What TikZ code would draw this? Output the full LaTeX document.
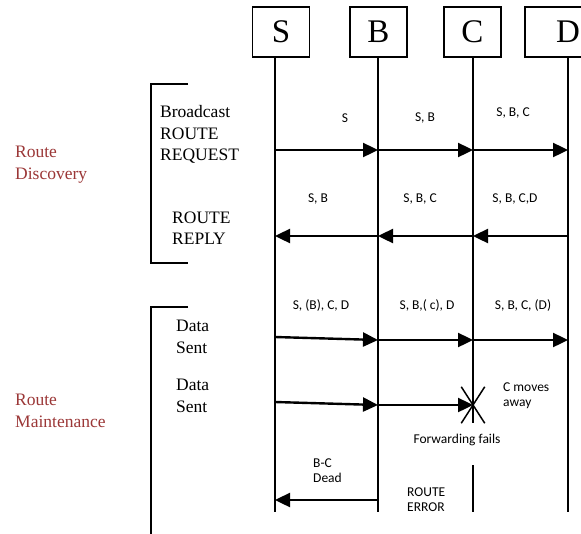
\documentclass[tikz,border=0pt]{standalone}
\usepackage{fontspec}
\setmainfont{Liberation Serif}
\newfontfamily\labelfont{Carlito}
\usepackage{xcolor}
\usepackage{tikz}
\usetikzlibrary{arrows.meta, positioning, shapes.misc}

\definecolor{phasered}{RGB}{155,55,55}

\begin{document}
\begin{tikzpicture}[
    x=1pt, y=-1pt,
    lifebox/.style={rectangle, draw, line width=1.4pt,
                    minimum width=57pt, minimum height=50pt,
                    font=\fontsize{33}{33}\selectfont, inner sep=0pt},
    life/.style={line width=1.6pt},
    msg/.style={-{Triangle[length=15pt, width=14pt]}, line width=2.4pt},
    bracket/.style={line width=1.8pt},
    note/.style={font=\fontsize{17.5}{21.5}\selectfont, align=left,
                 anchor=west, inner sep=0pt},
    phase/.style={note, text=phasered},
    tag/.style={font=\labelfont\fontsize{13.5}{15.5}\selectfont,
                inner sep=0pt, align=left}
]
\clip (0,0) rectangle (581,533);

%% ── Participants ─────────────────────────────────────────────────────────
\node[lifebox] (nS) at (281,32)   {S};
\node[lifebox] (nB) at (378.5,32) {B};
\node[lifebox] (nC) at (472.5,32) {C};
\node[lifebox, minimum width=86pt] (nD) at (568,32) {D};

% lifeline ends
\coordinate (Send) at (275,512);
\coordinate (Bend) at (378,512);
\coordinate (Cend) at (473,512);
\coordinate (Dend) at (568,512);
\coordinate (Cgap) at (473,465);

% message rows
\coordinate (req)  at (0,150);
\coordinate (rep)  at (0,236);
\coordinate (dat)  at (0,340);
\coordinate (dat2) at (0,405);
\coordinate (err)  at (0,500);

%% ── Fail mark on C ───────────────────────────────────────────────────────
\node[cross out, draw, line width=1.5pt, minimum width=22pt,
      minimum height=35pt, inner sep=0pt] (fail) at (Cend |- dat2) {};

\draw[life] (nS.south -| Send) -- (Send);
\draw[life] (nB.south -| Bend) -- (Bend);
\draw[life] (nC.south -| Cend) -- (fail.south -| Cend);
\draw[life] (Cgap) -- (Cend);
\draw[life] (nD.south -| Dend) -- (Dend);

%% ── Route discovery ──────────────────────────────────────────────────────
\draw[msg] (Send |- req) -- (Bend |- req);
\draw[msg] (Bend |- req) -- (Cend |- req);
\draw[msg] (Cend |- req) -- (Dend |- req);

\node[tag] (r1) at (345,118) {S};
\node[tag] (r2) at (425,118) {S, B};
\node[tag] (r3) at (513,113) {S, B, C};

\draw[msg] (Dend |- rep) -- (Cend |- rep);
\draw[msg] (Cend |- rep) -- (Bend |- rep);
\draw[msg] (Bend |- rep) -- (Send |- rep);

\node[tag] (p1) at (318,199) {S, B};
\node[tag] (p2) at (420,199) {S, B, C};
\node[tag] (p3) at (515,199) {S, B, C,D};

%% ── Route maintenance ────────────────────────────────────────────────────
\coordinate (dS)  at (275,337);
\coordinate (dS2) at (275,402);

\draw[msg] (dS) -- (Bend |- dat);
\draw[msg] (Bend |- dat) -- (Cend |- dat);
\draw[msg] (Cend |- dat) -- (Dend |- dat);

\node[tag] (d1) at (321,305) {S, (B), C, D};
\node[tag] (d2) at (427,305) {S, B,( c), D};
\node[tag] (d3) at (523,305) {S, B, C, (D)};

\draw[msg] (dS2) -- (Bend |- dat2);
\draw[msg] (Bend |- dat2) -- (fail.center);

\node[tag, anchor=west] (move) at (503,395.5) {C moves\\away};
\node[tag] (fwd) at (457,440) {Forwarding fails};

\draw[msg] (Bend |- err) -- (Send |- err);

\node[tag, anchor=west] (dead)  at (313,470.5) {B-C\\Dead};
\node[tag, anchor=west] (rerr)  at (407,499.5) {ROUTE\\ERROR};

%% ── Phase brackets and labels ────────────────────────────────────────────
\draw[bracket] (188,84) -- (151,84) -- (151,263) -- (188,263);
\draw[bracket] (188,307) -- (151,307) -- (151,540);

\node[note] (bcast) at (160,134.5) {Broadcast\\ROUTE\\REQUEST};
\node[note] (reply) at (172,228)   {ROUTE\\REPLY};
\node[note] (sent1) at (176,337)   {Data\\Sent};
\node[note] (sent2) at (176,396)   {Data\\Sent};

\node[phase] (disc)  at (15,164.5) {Route\\Discovery};
\node[phase] (maint) at (15,411)   {Route\\Maintenance};

\end{tikzpicture}
\end{document}
